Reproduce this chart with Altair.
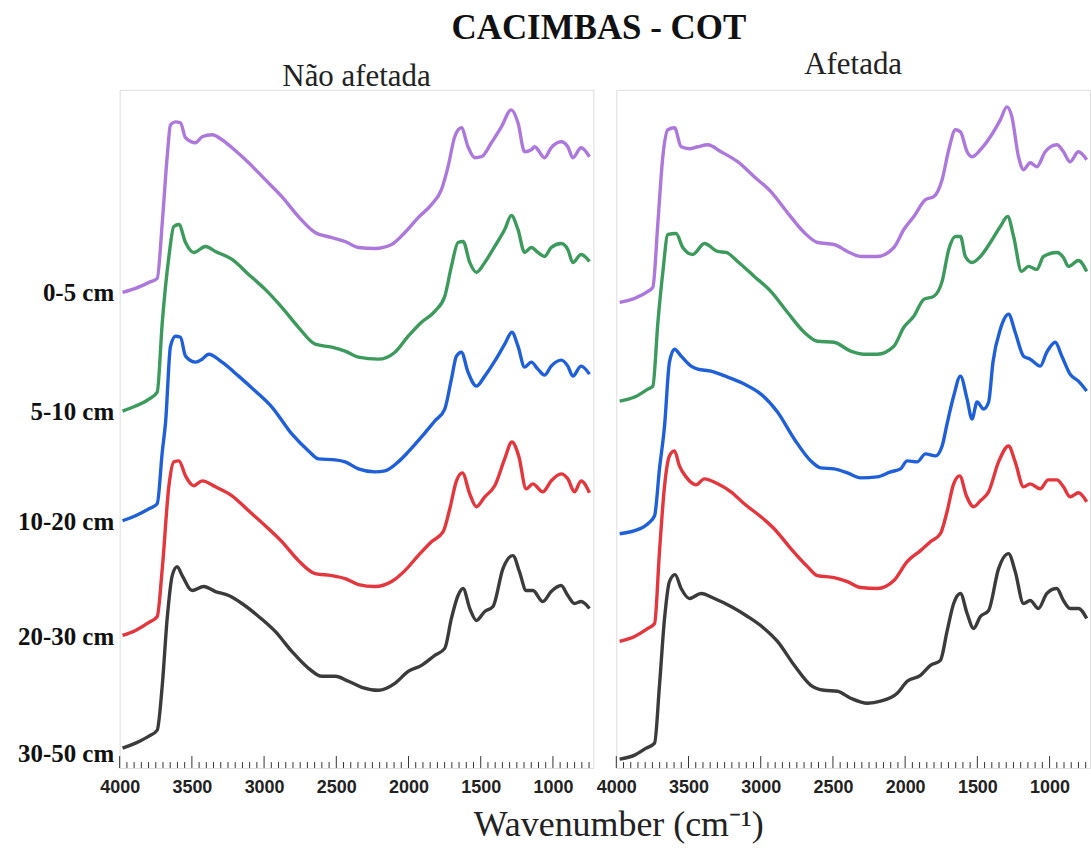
import altair as alt
import pandas as pd

# Soil depth layers, line colours and where each depth label sits on the offset axis
DEPTHS = ["0-5 cm", "5-10 cm", "10-20 cm", "20-30 cm", "30-50 cm"]
COLORS = ["#AC78DC", "#3C9A5C", "#1F60D8", "#E3363D", "#3B3B3B"]
LABEL_Y = [4.77, 3.58, 2.47, 1.32, 0.15]

# Wavenumber axis
WN_MIN, WN_MAX = 720, 4000
MAJOR_TICKS = [4000, 3500, 3000, 2500, 2000, 1500, 1000]
MINOR_TICKS = [w for w in range(3950, 740, -50) if w % 500 != 0]

# ---- Não afetada (offset absorbance, a.u.) ----
NA_05_WN = [3980, 3890, 3797, 3740, 3705, 3671, 3648, 3613, 3579, 3544, 3475, 3429, 3360, 3291, 3222,
            3107, 2992, 2877, 2762, 2646, 2531, 2439, 2347, 2232, 2117, 2025, 1933, 1841, 1772, 1726,
            1680, 1634, 1588, 1541, 1495, 1426, 1357, 1288, 1242, 1196, 1150, 1127, 1058, 1012, 943,
            897, 862, 805, 747]
NA_05_A = [4.77, 4.81, 4.87, 4.91, 5.47, 6.13, 6.45, 6.48, 6.47, 6.32, 6.27, 6.33, 6.35, 6.30, 6.22,
           6.07, 5.90, 5.73, 5.53, 5.37, 5.32, 5.28, 5.22, 5.21, 5.25, 5.37, 5.52, 5.65, 5.80, 6.03,
           6.33, 6.42, 6.23, 6.12, 6.13, 6.27, 6.43, 6.60, 6.47, 6.18, 6.20, 6.23, 6.12, 6.22, 6.28,
           6.23, 6.12, 6.22, 6.13]

NA_510_WN = [3980, 3890, 3797, 3740, 3705, 3659, 3625, 3590, 3544, 3487, 3406, 3337, 3222, 3107, 2992,
             2877, 2762, 2646, 2531, 2439, 2347, 2209, 2094, 2002, 1910, 1818, 1749, 1703, 1657, 1622,
             1576, 1530, 1472, 1403, 1334, 1288, 1242, 1196, 1150, 1104, 1058, 1012, 943, 897, 862,
             805, 747]
NA_510_A = [3.58, 3.63, 3.70, 3.77, 4.47, 5.13, 5.43, 5.45, 5.27, 5.17, 5.23, 5.18, 5.10, 4.95, 4.80,
            4.62, 4.42, 4.25, 4.22, 4.18, 4.12, 4.10, 4.17, 4.33, 4.47, 4.58, 4.73, 5.03, 5.27, 5.28,
            5.07, 4.97, 5.07, 5.23, 5.40, 5.54, 5.40, 5.17, 5.22, 5.17, 5.13, 5.22, 5.26, 5.20, 5.07,
            5.15, 5.08]

NA_1020_WN = [3980, 3890, 3797, 3740, 3705, 3682, 3648, 3613, 3579, 3544, 3475, 3429, 3383, 3291, 3176,
              3061, 2946, 2808, 2692, 2623, 2508, 2439, 2347, 2232, 2163, 2071, 2002, 1910, 1818, 1749,
              1703, 1668, 1634, 1588, 1530, 1472, 1403, 1334, 1284, 1242, 1196, 1150, 1104, 1058, 1012,
              943, 897, 862, 805, 747]
NA_1020_A = [2.48, 2.53, 2.60, 2.65, 3.17, 3.47, 4.23, 4.33, 4.32, 4.13, 4.07, 4.10, 4.15, 4.07, 3.93,
             3.78, 3.62, 3.35, 3.18, 3.10, 3.09, 3.07, 3.00, 2.97, 2.98, 3.07, 3.17, 3.32, 3.48, 3.60,
             3.90, 4.13, 4.17, 3.97, 3.83, 3.93, 4.08, 4.25, 4.37, 4.23, 4.02, 4.07, 4.00, 3.94, 4.03,
             4.09, 4.03, 3.93, 4.03, 3.95]

NA_2030_WN = [3980, 3890, 3797, 3740, 3705, 3659, 3625, 3590, 3544, 3487, 3429, 3337, 3222, 3107, 2992,
              2877, 2762, 2646, 2531, 2439, 2347, 2232, 2117, 2025, 1933, 1841, 1760, 1714, 1668, 1627,
              1576, 1530, 1472, 1403, 1334, 1284, 1237, 1185, 1139, 1070, 1012, 943, 897, 851, 805,
              747]
NA_2030_A = [1.33, 1.38, 1.46, 1.52, 2.00, 2.83, 3.07, 3.08, 2.93, 2.83, 2.88, 2.82, 2.73, 2.58, 2.43,
             2.27, 2.08, 1.95, 1.93, 1.90, 1.84, 1.82, 1.87, 1.98, 2.13, 2.27, 2.37, 2.60, 2.88, 2.96,
             2.75, 2.62, 2.72, 2.83, 3.10, 3.27, 3.13, 2.80, 2.85, 2.77, 2.88, 2.95, 2.90, 2.77, 2.88,
             2.76]

NA_3050_WN = [3980, 3890, 3797, 3740, 3705, 3671, 3636, 3602, 3567, 3498, 3418, 3337, 3245, 3153, 3038,
              2923, 2808, 2692, 2600, 2508, 2416, 2324, 2209, 2094, 2002, 1910, 1818, 1749, 1703, 1657,
              1622, 1576, 1530, 1472, 1415, 1346, 1277, 1232, 1185, 1139, 1070, 1012, 943, 897, 851,
              805, 747]
NA_3050_A = [0.20, 0.25, 0.32, 0.38, 0.83, 1.50, 1.93, 2.02, 1.93, 1.78, 1.82, 1.77, 1.73, 1.65, 1.52,
             1.37, 1.17, 1.00, 0.92, 0.92, 0.87, 0.81, 0.78, 0.85, 0.97, 1.03, 1.13, 1.20, 1.50, 1.73,
             1.80, 1.60, 1.48, 1.57, 1.62, 2.00, 2.13, 1.97, 1.78, 1.78, 1.67, 1.77, 1.83, 1.73, 1.65,
             1.67, 1.60]

# ---- Afetada (offset absorbance, a.u.) ----
AF_05_WN = [3977, 3873, 3781, 3747, 3712, 3678, 3643, 3597, 3551, 3494, 3436, 3367, 3275, 3160, 3045,
            2930, 2815, 2699, 2607, 2492, 2400, 2308, 2193, 2078, 2009, 1940, 1859, 1802, 1744, 1698,
            1652, 1617, 1571, 1537, 1479, 1410, 1341, 1295, 1261, 1215, 1180, 1134, 1088, 1030, 950,
            904, 858, 800, 743]
AF_05_A = [4.67, 4.71, 4.78, 4.82, 5.47, 6.13, 6.40, 6.42, 6.23, 6.21, 6.23, 6.25, 6.18, 6.08, 5.93,
           5.78, 5.57, 5.37, 5.27, 5.25, 5.18, 5.13, 5.13, 5.22, 5.40, 5.53, 5.70, 5.73, 5.90, 6.20,
           6.40, 6.38, 6.18, 6.13, 6.20, 6.33, 6.50, 6.63, 6.53, 6.13, 6.00, 6.07, 6.03, 6.18, 6.25,
           6.18, 6.08, 6.18, 6.10]

AF_510_WN = [3977, 3873, 3781, 3747, 3712, 3678, 3643, 3586, 3540, 3471, 3390, 3298, 3240, 3160, 3045,
             2930, 2815, 2699, 2607, 2492, 2377, 2285, 2193, 2078, 2009, 1940, 1871, 1802, 1744, 1698,
             1652, 1617, 1583, 1537, 1479, 1410, 1341, 1290, 1249, 1194, 1146, 1088, 1042, 950, 904,
             869, 800, 743]
AF_510_A = [3.68, 3.72, 3.80, 3.83, 4.47, 4.97, 5.35, 5.36, 5.22, 5.15, 5.26, 5.18, 5.17, 5.08, 4.93,
            4.78, 4.57, 4.37, 4.28, 4.27, 4.18, 4.15, 4.15, 4.23, 4.42, 4.53, 4.70, 4.73, 4.88, 5.20,
            5.33, 5.33, 5.13, 5.07, 5.13, 5.27, 5.43, 5.53, 5.33, 4.98, 5.03, 5.00, 5.13, 5.17, 5.12,
            5.03, 5.09, 4.98]

AF_1020_WN = [3977, 3873, 3781, 3735, 3701, 3666, 3632, 3597, 3551, 3482, 3436, 3344, 3229, 3114, 2999,
              2884, 2768, 2653, 2584, 2492, 2400, 2308, 2193, 2101, 2032, 1986, 1917, 1859, 1790, 1744,
              1710, 1664, 1617, 1571, 1537, 1502, 1456, 1422, 1392, 1341, 1284, 1238, 1180, 1134, 1065,
              1019, 961, 915, 858, 800, 743]
AF_1020_A = [2.35, 2.38, 2.45, 2.53, 3.00, 3.43, 4.07, 4.20, 4.13, 4.03, 4.00, 3.98, 3.92, 3.85, 3.75,
             3.57, 3.30, 3.08, 3.01, 3.00, 2.96, 2.91, 2.92, 2.97, 3.00, 3.08, 3.07, 3.15, 3.13, 3.23,
             3.45, 3.73, 3.93, 3.70, 3.50, 3.67, 3.60, 3.67, 4.07, 4.40, 4.55, 4.37, 4.13, 4.10, 4.03,
             4.17, 4.27, 4.13, 3.95, 3.88, 3.78]

AF_2030_WN = [3977, 3873, 3781, 3735, 3701, 3666, 3632, 3597, 3563, 3517, 3448, 3390, 3298, 3206, 3114,
              2999, 2907, 2791, 2676, 2607, 2492, 2400, 2308, 2193, 2078, 1986, 1894, 1825, 1756, 1710,
              1664, 1622, 1576, 1526, 1479, 1422, 1353, 1284, 1238, 1180, 1134, 1065, 1009, 950, 904,
              858, 800, 743]
AF_2030_A = [1.27, 1.32, 1.40, 1.45, 2.17, 2.83, 3.13, 3.18, 3.03, 2.92, 2.84, 2.90, 2.85, 2.77, 2.65,
             2.52, 2.40, 2.20, 2.02, 1.93, 1.91, 1.87, 1.81, 1.80, 1.88, 2.07, 2.18, 2.27, 2.35, 2.57,
             2.85, 2.93, 2.73, 2.62, 2.68, 2.77, 3.07, 3.23, 3.07, 2.82, 2.85, 2.80, 2.89, 2.89, 2.82,
             2.72, 2.76, 2.67]

AF_3050_WN = [3977, 3873, 3793, 3735, 3701, 3666, 3632, 3593, 3551, 3494, 3413, 3321, 3206, 3091, 2976,
              2884, 2768, 2653, 2561, 2469, 2377, 2262, 2170, 2055, 1986, 1894, 1825, 1756, 1710, 1664,
              1617, 1571, 1526, 1479, 1422, 1353, 1284, 1238, 1180, 1134, 1077, 1019, 950, 904, 858,
              800, 743]
AF_3050_A = [0.09, 0.13, 0.20, 0.25, 0.83, 1.50, 1.87, 1.94, 1.80, 1.70, 1.75, 1.70, 1.62, 1.52, 1.40,
             1.27, 1.03, 0.83, 0.78, 0.77, 0.70, 0.65, 0.67, 0.75, 0.87, 0.93, 1.03, 1.08, 1.37, 1.65,
             1.75, 1.55, 1.40, 1.52, 1.58, 2.00, 2.15, 1.97, 1.65, 1.68, 1.60, 1.75, 1.80, 1.68, 1.60,
             1.60, 1.50]

SPECTRA = {
    "Não afetada": [(NA_05_WN, NA_05_A), (NA_510_WN, NA_510_A), (NA_1020_WN, NA_1020_A),
                    (NA_2030_WN, NA_2030_A), (NA_3050_WN, NA_3050_A)],
    "Afetada": [(AF_05_WN, AF_05_A), (AF_510_WN, AF_510_A), (AF_1020_WN, AF_1020_A),
                (AF_2030_WN, AF_2030_A), (AF_3050_WN, AF_3050_A)],
}

SERIF = "Liberation Serif"
SANS = "Liberation Sans"
PANEL_W, PANEL_H = 475, 680
Y_TOP = 6.8


def spectra_frame(panel):
    rows = []
    for depth, (wn, a) in zip(DEPTHS, SPECTRA[panel]):
        for w, v in zip(wn, a):
            rows.append({"depth": depth, "wn": w, "a": v})
    return pd.DataFrame(rows)


def x_encoding(with_title):
    axis_kw = dict(values=MAJOR_TICKS, format="d", ticks=False, domain=False, grid=False,
                   labelFont=SANS, labelFontSize=18, labelFontWeight="bold", labelColor="#222222",
                   labelPadding=11, labelFlush=False, labelOverlap=False)
    if with_title:
        axis_kw.update(title="Wavenumber (cm⁻¹)", titleFont=SERIF, titleFontSize=36,
                       titleFontWeight="normal", titleColor="#222222", titleX=500, titleY=68,
                       titleAlign="center", titleBaseline="alphabetic", titleAnchor="start")
    else:
        axis_kw.update(title=None)
    return alt.X("wn:Q", scale=alt.Scale(domain=[WN_MIN, WN_MAX], reverse=True, nice=False, zero=False),
                 axis=alt.Axis(**axis_kw))


def y_encoding(with_labels):
    scale = alt.Scale(domain=[0, Y_TOP], nice=False, zero=False)
    if not with_labels:
        return alt.Y("a:Q", scale=scale, axis=None)
    names = ",".join(f"'{d}'" for d in DEPTHS)
    vals = ",".join(str(v) for v in LABEL_Y)
    return alt.Y("a:Q", scale=scale,
                 axis=alt.Axis(values=LABEL_Y, labelExpr=f"[{names}][indexof([{vals}], datum.value)]",
                               ticks=False, domain=False, grid=False, title=None,
                               labelFont=SERIF, labelFontSize=25, labelFontWeight="bold",
                               labelColor="#111111", labelPadding=6, minExtent=110, maxExtent=110))


def panel(name, first, title_offset):
    x = x_encoding(first)
    y = y_encoding(first)
    lines = alt.Chart(spectra_frame(name)).mark_line(
        strokeWidth=3.4, interpolate="monotone", clip=True
    ).encode(
        x=x, y=y,
        color=alt.Color("depth:N", scale=alt.Scale(domain=DEPTHS, range=COLORS), legend=None),
    )
    major = alt.Chart(pd.DataFrame({"wn": MAJOR_TICKS})).mark_rule(
        color="#333333", strokeWidth=1
    ).encode(x=x, y=alt.value(PANEL_H), y2=alt.value(PANEL_H - 12))
    minor = alt.Chart(pd.DataFrame({"wn": MINOR_TICKS})).mark_rule(
        color="#333333", strokeWidth=1
    ).encode(x=x, y=alt.value(PANEL_H), y2=alt.value(PANEL_H - 6))
    return alt.layer(lines, major, minor).properties(
        width=PANEL_W, height=PANEL_H,
        title=alt.TitleParams(name, font=SERIF, fontSize=31, fontWeight="normal", color="#222222",
                              anchor="middle", baseline="alphabetic", offset=title_offset),
    )


chart = alt.hconcat(
    panel("Não afetada", True, -27),
    panel("Afetada", False, -15),
    spacing=23,
    bounds="flush",
).properties(
    title=alt.TitleParams("CACIMBAS - COT", font=SERIF, fontSize=35, fontWeight="bold",
                          color="#111111", anchor="middle", offset=3, dx=49),
    padding={"left": 9, "top": 9, "right": 0, "bottom": 0},
).configure_view(
    stroke="#444444", strokeWidth=1.2
).configure(background="white")

chart.save("out.html", embed_options={"renderer": "svg", "actions": False})
